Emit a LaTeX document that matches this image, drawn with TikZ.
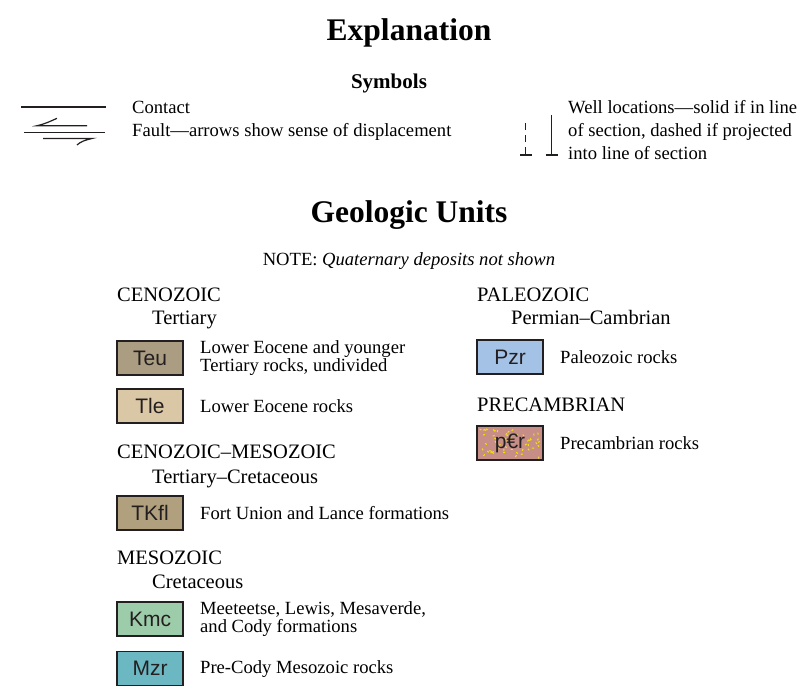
\documentclass[tikz,border=0pt]{standalone}
\usepackage{fontspec}
\setmainfont{Liberation Serif}
\newfontfamily\unitfont{Liberation Sans}
\usetikzlibrary{arrows.meta}

\definecolor{teucol}{HTML}{AA9D82}
\definecolor{tlecol}{HTML}{DAC7A6}
\definecolor{tkflcol}{HTML}{B0A07D}
\definecolor{kmccol}{HTML}{9DCCAA}
\definecolor{mzrcol}{HTML}{6CB8C2}
\definecolor{pzrcol}{HTML}{A4C1E6}
\definecolor{pcrcol}{HTML}{C68E87}
\definecolor{dotcol}{HTML}{F2E600}
\definecolor{ink}{HTML}{231F20}

\tikzset{
  heading/.style={anchor=base, inner sep=0pt, font=\bfseries\fontsize{31.5}{32}\selectfont},
  subhead/.style={anchor=base, inner sep=0pt, font=\bfseries\fontsize{21}{22}\selectfont},
  era/.style={anchor=base west, inner sep=0pt, font=\fontsize{20.5}{22}\selectfont},
  desc/.style={anchor=west, align=left, inner sep=0pt, font=\fontsize{18.6}{18}\selectfont},
  symtext/.style={anchor=base west, inner sep=0pt, font=\fontsize{18.6}{22}\selectfont},
  unitbox/.style={draw=ink, line width=1.2pt, minimum width=66pt, minimum height=34pt,
    inner sep=0pt, text=ink, font=\unitfont\fontsize{21}{21}\selectfont},
  symline/.style={ink, line width=1.3pt}
}

\begin{document}
\begin{tikzpicture}[x=1pt, y=-1pt]
\useasboundingbox (0,0) rectangle (812,697);

% titles
\node[heading] (expl) at (409,40) {Explanation};
\node[subhead] (sym) at (389,88.3) {Symbols};
\node[heading] (units) at (409,222.5) {Geologic Units};
\node[symtext, anchor=base] (note) at (409,265) {NOTE: \itshape Quaternary deposits not shown};

% symbols
\coordinate (cona) at (21,107);
\coordinate (conb) at (106,107);
\draw[symline] (cona) -- (conb);
\node[symtext] (contact) at (132,113) {Contact};

\coordinate (flta) at (24,132.5);
\coordinate (fltb) at (105,132.5);
\draw[symline] (flta) -- (fltb);
\draw[symline, line width=1.2pt] (87,125.7) -- (37,125.7) .. controls (45,124) and (51,121) .. (57,118.3);
\draw[symline, line width=1.2pt] (43,138.5) -- (92,138.5) .. controls (85,140) and (80,142) .. (77,145);
\node[symtext] (fault) at (132,136) {Fault---arrows show sense of displacement};

\draw[symline, line width=1.2pt, dash pattern=on 7pt off 5pt] (525.7,123) -- (525.7,155);
\draw[symline, line width=1.2pt] (520,155) -- (531.5,155);
\draw[symline, line width=1.2pt] (551.7,115) -- (551.7,155);
\draw[symline, line width=1.2pt] (545.5,155) -- (558,155);
\node[desc, align=left, font=\fontsize{18.6}{23}\selectfont] (wells) at (568,130)
  {Well locations---solid if in line\\of section, dashed if projected\\into line of section};

% left column
\node[era] (ceno) at (117,301) {CENOZOIC};
\node[era] (tert) at (152,324) {Tertiary};
\node[unitbox, fill=teucol] (teu) at (150,358) {Teu};
\node[desc] (teutxt) at (200,358) {Lower Eocene and younger\\Tertiary rocks, undivided};
\node[unitbox, fill=tlecol] (tle) at (150,406) {Tle};
\node[desc] (tletxt) at (200,406) {Lower Eocene rocks};

\node[era] (cenomeso) at (117,458) {CENOZOIC--MESOZOIC};
\node[era] (tertcret) at (152,483) {Tertiary--Cretaceous};
\node[unitbox, fill=tkflcol] (tkfl) at (150,513) {TKfl};
\node[desc] (tkfltxt) at (200,513) {Fort Union and Lance formations};

\node[era] (meso) at (117,564) {MESOZOIC};
\node[era] (cret) at (152,588) {Cretaceous};
\node[unitbox, fill=kmccol] (kmc) at (150,619) {Kmc};
\node[desc] (kmctxt) at (200,619) {Meeteetse, Lewis, Mesaverde,\\and Cody formations};
\node[unitbox, fill=mzrcol] (mzr) at (150,668.7) {Mzr};
\node[desc] (mzrtxt) at (200,668.7) {Pre-Cody Mesozoic rocks};

% right column
\node[era] (paleo) at (477,301) {PALEOZOIC};
\node[era] (permcamb) at (511,324) {Permian--Cambrian};
\node[unitbox, fill=pzrcol] (pzr) at (510,357) {Pzr};
\node[desc] (pzrtxt) at (560,357) {Paleozoic rocks};

\node[era] (precamb) at (477,411.5) {PRECAMBRIAN};
\node[unitbox, fill=pcrcol] (pcr) at (510,443) {};
\pgfmathsetseed{42}
\foreach \i in {1,...,55} {
  \pgfmathsetmacro\px{480+60*rnd}
  \pgfmathsetmacro\py{429+28*rnd}
  \pgfmathsetmacro\pa{360*rnd}
  \draw[dotcol, line width=1pt] (\px,\py) -- ++(\pa:2);
}
\node[unitbox, draw=none] (pcrlbl) at (pcr) {p€r};
\node[desc] (pcrtxt) at (560,443) {Precambrian rocks};
\end{tikzpicture}
\end{document}
